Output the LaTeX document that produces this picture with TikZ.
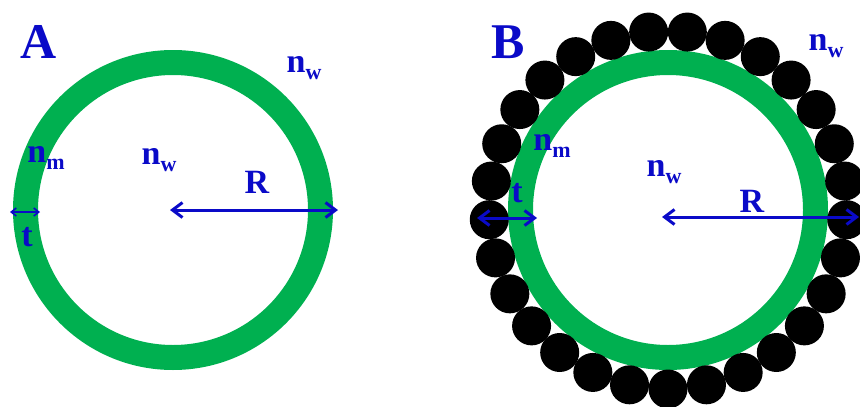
\documentclass[tikz,border=0pt]{standalone}
\usepackage{fontspec}
\setmainfont{Liberation Serif}
\usetikzlibrary{arrows.meta}
\definecolor{ringgreen}{HTML}{00B050}
\definecolor{labelblue}{HTML}{0A0AC8}
\newcommand{\idx}[2]{#1\raisebox{-7pt}{\fontsize{22}{22}\selectfont #2}}

\begin{document}
\begin{tikzpicture}[
		x=1pt, y=-1pt,
		ring/.style={draw=ringgreen, line width=25pt},
		bead/.style={fill=black},
		dim/.style={
			{Straight Barb[length=10pt, width=15pt]}-{Straight Barb[length=10pt, width=15pt]},
			labelblue, line width=3pt
		},
		thindim/.style={
			{Straight Barb[length=5pt, width=8pt]}-{Straight Barb[length=5pt, width=8pt]},
			labelblue, line width=1.6pt
		},
		panel/.style={font=\fontsize{50}{50}\selectfont\bfseries, text=labelblue, inner sep=0pt},
		sym/.style={font=\fontsize{34}{34}\selectfont\bfseries, text=labelblue, inner sep=0pt}
		]
		\useasboundingbox (0,0) rectangle (860,407);
		
		% Centres of the two vesicles
		\coordinate (centA) at (173,210);
		\coordinate (centB) at (668,210);
		
		% --- Panel A: bare membrane ---
		\draw[ring] (centA) circle[radius=147.5];
		
		\node[panel] (labA) at (39,42) {A};
		\node[sym] (nwoutA) at (304,68) {\idx{n}{w}};
		\node[sym] (nwinA) at (159,160) {\idx{n}{w}};
		\node[sym] (nmA) at (46,158) {\idx{n}{m}};
		\node[sym] (RA) at (257,182) {R};
		\node[sym] (tA) at (27,237) {t};
		
		% Radius and thickness
		\coordinate (rA0) at (170,210);
		\coordinate (rA1) at (338,210);
		\draw[dim] (rA0) -- (rA1);
		\coordinate (tA0) at (10,212);
		\coordinate (tA1) at (40,212);
		\draw[thindim] (tA0) -- (tA1);
		
		% --- Panel B: membrane with bound particles ---
		\draw[ring] (centB) circle[radius=147.5];
		\foreach \k in {0,...,28}
		\fill[bead] (centB) ++({90+\k*360/29}:179) circle[radius=19.5];
		
		\node[panel] (labB) at (508,42) {B};
		\node[sym] (nwoutB) at (826,46) {\idx{n}{w}};
		\node[sym] (nwinB) at (664,172) {\idx{n}{w}};
		\node[sym] (nmB) at (552,146) {\idx{n}{m}};
		\node[sym] (RB) at (752,201) {R};
		\node[sym] (tB) at (517,193) {t};
		
		% Radius and thickness
		\coordinate (rB0) at (662,217);
		\coordinate (rB1) at (859,217);
		\draw[dim] (rB0) -- (rB1);
		\coordinate (tB0) at (477,218);
		\coordinate (tB1) at (537,218);
		\draw[dim] (tB0) -- (tB1);
		
	\end{tikzpicture}
\end{document}
